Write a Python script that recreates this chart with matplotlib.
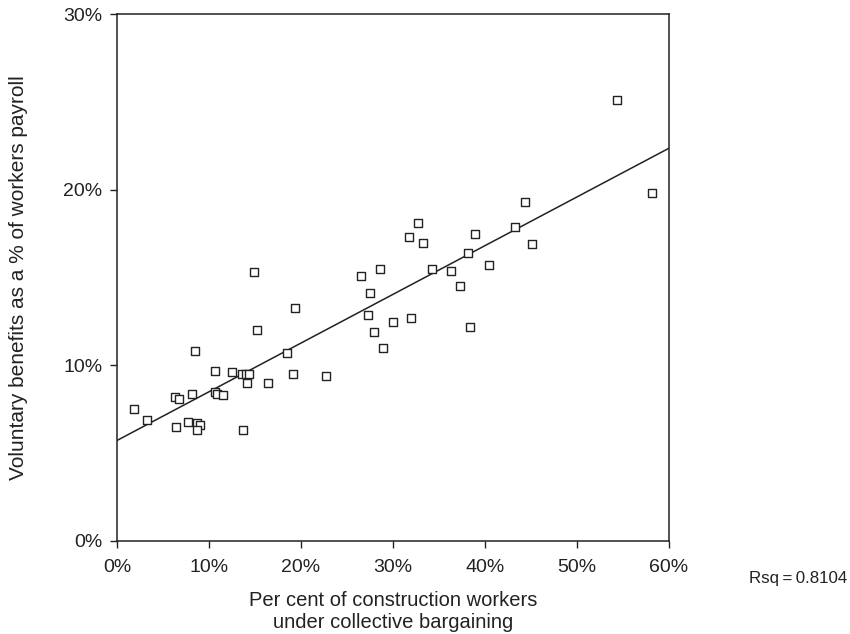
import numpy as np
import matplotlib
matplotlib.use("Agg")
import matplotlib.pyplot as plt
from matplotlib.ticker import FuncFormatter

plt.rcParams['font.family'] = ['Liberation Sans', 'DejaVu Sans']

# Share of construction workers covered by collective bargaining (%)
coverage = [1.8, 3.3, 6.3, 6.7, 6.4, 7.7, 8.2, 8.5, 8.7, 9.0, 8.7, 10.7,
            10.7, 10.9, 11.5, 12.5, 13.7, 13.6, 14.0, 14.3, 14.1,
            14.9, 15.2, 16.4, 18.5, 19.1, 19.3, 22.7, 26.5, 27.3, 27.5,
            27.9, 28.6, 28.9, 30.0, 31.7, 32.0, 32.7, 33.3, 34.2, 36.3,
            37.3, 38.2, 38.4, 38.9, 40.4, 43.3, 44.4, 45.1, 54.4, 58.2]

# Voluntary benefits as a share of payroll (%)
benefits = [7.5, 6.9, 8.2, 8.1, 6.5, 6.8, 8.4, 10.8, 6.7, 6.6, 6.3, 9.7,
            8.5, 8.4, 8.3, 9.6, 6.3, 9.5, 9.5, 9.5, 9.0,
            15.3, 12.0, 9.0, 10.7, 9.5, 13.3, 9.4, 15.1, 12.9, 14.1,
            11.9, 15.5, 11.0, 12.5, 17.3, 12.7, 18.1, 17.0, 15.5, 15.4,
            14.5, 16.4, 12.2, 17.5, 15.7, 17.9, 19.3, 16.9, 25.1, 19.8]

x_ticks = [0, 10, 20, 30, 40, 50, 60]
y_ticks = [0, 10, 20, 30]
r_squared = 0.8104

x = np.array(coverage)
y = np.array(benefits)
slope, intercept = np.polyfit(x, y, 1)

fig = plt.figure(figsize=(8.5, 6.34), dpi=100)
ax = fig.add_axes([0.1376, 0.1467, 0.6494, 0.8307])

ax.scatter(x, y, marker='s', s=28, facecolors='white', edgecolors='#222222',
           linewidths=1.0, zorder=3)

line_x = np.array([0, 60])
ax.plot(line_x, intercept + slope * line_x, color='#222222', lw=1.1, zorder=2)

ax.set_xlim(0, 60)
ax.set_ylim(0, 30)
ax.set_xticks(x_ticks)
ax.set_yticks(y_ticks)
pct = FuncFormatter(lambda v, _: f"{v:.0f}%")
ax.xaxis.set_major_formatter(pct)
ax.yaxis.set_major_formatter(pct)
ax.tick_params(direction='out', length=5, width=1, labelsize=14,
               colors='#222222')
ax.tick_params(axis='x', pad=8)
ax.tick_params(axis='y', pad=5.5)
for s in ax.spines.values():
    s.set_linewidth(1.1)
    s.set_color('#222222')

ax.set_xlabel("Per cent of construction workers\nunder collective bargaining",
              fontsize=14.5, color='#222222', labelpad=11, linespacing=1.15)
ax.set_ylabel("Voluntary benefits as a % of workers payroll",
              fontsize=15, color='#222222', labelpad=25.5)

fig.text(0.997, 0.088, f"Rsq\u2009=\u2009{r_squared:.4f}", fontsize=12.2,
         color='#222222', ha='right', va='center')

fig.savefig("out.png", dpi=100, facecolor='white')
